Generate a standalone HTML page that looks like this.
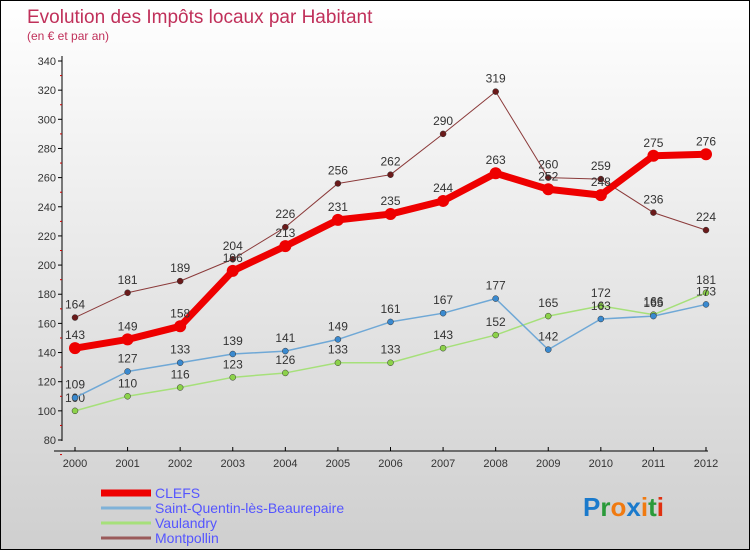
<!DOCTYPE html>
<html><head><meta charset="utf-8"><style>
body{margin:0}
#wrap{width:748px;height:548px;border:1px solid #000;background:linear-gradient(#ffffff,#cfcfcf);position:relative;overflow:hidden;font-family:"Liberation Sans",sans-serif}
</style></head><body>
<div id="wrap">
<svg id="svg" width="748" height="548" style="position:absolute;left:0;top:0"></svg>
</div>
<script>
const years=[2000,2001,2002,2003,2004,2005,2006,2007,2008,2009,2010,2011,2012];
const yTicks=[80,100,120,140,160,180,200,220,240,260,280,300,320,340];
const clefs=[143,149,158,196,213,231,235,244,263,252,248,275,276];
const stQuentin=[109,127,133,139,141,149,161,167,177,142,163,165,173];
const vaulandry=[100,110,116,123,126,133,133,143,152,165,172,166,181];
const montpollin=[164,181,189,204,226,256,262,290,319,260,259,236,224];
const NS="http://www.w3.org/2000/svg";
const svg=document.getElementById('svg');
const X=i=>74+i*(705-74)/12;
const Y=v=>439-(v-80)*(439-60)/260;
function el(t,a,p){const e=document.createElementNS(NS,t);for(const k in a)e.setAttribute(k,a[k]);(p||svg).appendChild(e);return e;}
// title
let t=el('text',{x:26,y:22,'font-size':19,fill:'#c0305a'});t.textContent='Evolution des Impôts locaux par Habitant';


t=el('text',{x:26,y:39,'font-size':12,fill:'#c0305a'});t.textContent='(en € et par an)';


// axes
let a=el('line',{x1:61,y1:55,x2:61,y2:440,stroke:'#000'});


a=el('line',{x1:53,y1:450,x2:707,y2:450,stroke:'#000'});


yTicks.forEach(v=>{
 el('line',{x1:57,y1:Y(v),x2:61,y2:Y(v),stroke:'#000'});
 el('line',{x1:59,y1:Y(v)+14.6,x2:61,y2:Y(v)+14.6,stroke:'#c00'});
 const l=el('text',{x:55,y:Y(v)+4,'font-size':11,fill:'#333','text-anchor':'end'});l.textContent=v;
 
 
});
years.forEach((yr,i)=>{
 el('line',{x1:X(i),y1:446,x2:X(i),y2:450,stroke:'#000'});
 const l=el('text',{x:X(i),y:466,'font-size':11,fill:'#333','text-anchor':'middle'});l.textContent=yr;
 
 
});
function series(data,color,w,r,dot,name){
 const g=el('g',{});
 
 
 el('polyline',{points:data.map((v,i)=>X(i)+','+Y(v)).join(' '),fill:'none',stroke:color,'stroke-width':w,'stroke-linejoin':'round'},g);
 data.forEach((v,i)=>{
  const c=el('circle',{cx:X(i),cy:Y(v),r:r,fill:dot,stroke:'#333','stroke-width':r>4?0:0.5},g);
  
  
  const l=el('text',{x:X(i),y:Y(v)-9,'font-size':12,fill:'#333','text-anchor':'middle'},g);l.textContent=v;
  
  
 });
}
series(montpollin,'#8b3a3a',1,3,'#6b1a1a','montpollin');
series(vaulandry,'#a6e07a',1.5,3,'#8cd24a','vaulandry');
series(stQuentin,'#6fa8d6',1.5,3,'#3a8ad0','saint-quentin');
series(clefs,'#ee0000',7,6,'#ee0000','clefs');
// legend
const leg=[['CLEFS','#ee0000',7],['Saint-Quentin-lès-Beaurepaire','#7fb2d8',3],['Vaulandry','#a6e07a',3],['Montpollin','#9a5a5a',3]];
leg.forEach((d,i)=>{
 const y=492+i*15;
 const g=el('g',{});
 
 
 el('line',{x1:100,y1:y,x2:150,y2:y,stroke:d[1],'stroke-width':d[2]},g);
 const l=el('text',{x:154,y:y+5,'font-size':14,fill:'#5555ff'},g);l.textContent=d[0];
});
// logo
const lg=el('text',{x:582,y:515,'font-size':26,'font-weight':'bold'});


[['P','#1a7acc'],['r','#2a9a3a'],['o','#f07a10'],['x','#1a7acc'],['i','#f07a10'],['t','#2a9a3a'],['i','#e03010']].forEach(c=>{
 const s=el('tspan',{fill:c[1]},lg);s.textContent=c[0];
});
</script>
</body></html>
